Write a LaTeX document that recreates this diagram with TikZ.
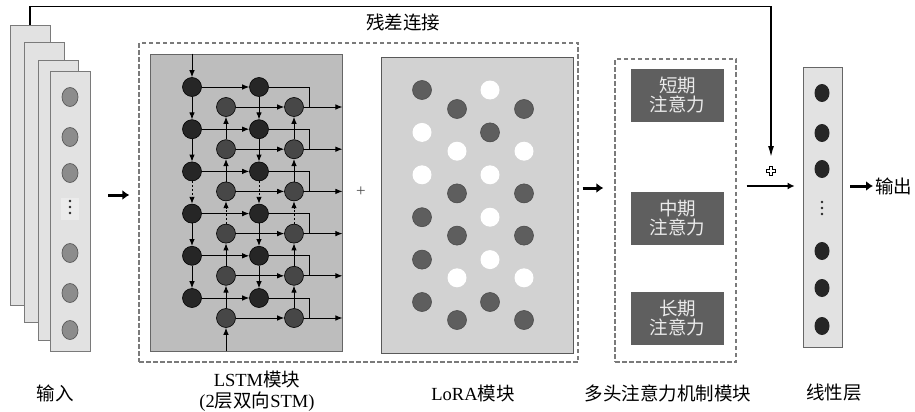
\documentclass[tikz,border=0pt]{standalone}
\usepackage{fontspec}
\setmainfont{Liberation Serif}
\newfontfamily\cjk{Noto Sans CJK SC}
\usepackage{tikz}
\definecolor{sheetGray}{HTML}{E2E2E2}
\definecolor{edgeGray}{HTML}{7A7A7A}
\definecolor{cellGray}{HTML}{8C8C8C}
\definecolor{lstmGray}{HTML}{BDBDBD}
\definecolor{loraGray}{HTML}{D2D2D2}
\definecolor{loraDark}{HTML}{5E5E5E}
\definecolor{attGray}{HTML}{5F5F5F}
\colorlet{fwdDark}{black!85}
\colorlet{bwdDark}{black!72}
\usetikzlibrary{arrows.meta}
\usetikzlibrary{shapes.geometric}
\newcommand{\zhtxt}[1]{{\cjk #1}}

\begin{document}
\begin{tikzpicture}[x=1pt, y=-1pt,
  sheet/.style={draw=edgeGray, fill=sheetGray, line width=0.8pt, minimum width=40pt, minimum height=280pt, inner sep=0pt},
  incell/.style={ellipse, draw=black!65, fill=cellGray, line width=0.7pt, minimum width=16pt, minimum height=19pt, inner sep=0pt},
  outcell/.style={ellipse, fill=fwdDark, minimum width=15pt, minimum height=18pt, inner sep=0pt},
  fwd/.style={circle, draw=black, fill=fwdDark, line width=0.6pt, minimum size=19pt, inner sep=0pt},
  bwd/.style={circle, draw=black, fill=bwdDark, line width=0.6pt, minimum size=19pt, inner sep=0pt},
  loraD/.style={circle, draw=black!70, fill=loraDark, line width=0.6pt, minimum size=19pt, inner sep=0pt},
  loraW/.style={circle, fill=white, minimum size=19pt, inner sep=0pt},
  flow/.style={-{Latex[length=7pt, width=5.5pt]}, line width=0.9pt},
  gap/.style={dash pattern=on 2pt off 2pt},
  fat/.style={-{Latex[length=7pt, width=10pt]}, line width=3pt},
  dashbox/.style={draw=edgeGray, dash pattern=on 4.5pt off 2.5pt, line width=1.3pt, inner sep=0pt},
  attbox/.style={fill=attGray, text=white!92!black, minimum width=93pt, minimum height=53pt, inner sep=0pt, align=center, font=\cjk\fontsize{18.5}{19}\selectfont},
  lbl/.style={inner sep=0pt, align=center, font=\fontsize{18.5}{21}\selectfont}]

  \useasboundingbox (0,0) rectangle (915,412);

  % input stack
  \node[sheet] (sheet1) at (30,165) {};
  \node[sheet] (sheet2) at (44,182.5) {};
  \node[sheet] (sheet3) at (58,200) {};
  \node[sheet] (sheet4) at (70,211) {};
  \foreach \n/\y in {1/97,2/137,3/173,4/253,5/293,6/330}
    \node[incell] (x\n) at (70,\y) {};
  \fill[sheetGray!70!white] (61,198) rectangle (79,220);
  \foreach \y in {201,207,213}
    \fill[black!85] (70,\y) circle [radius=1.4];

  % encoder (LSTM + LoRA)
  \node[dashbox, minimum width=439pt, minimum height=319pt] (enc) at (358.5,202.5) {};
  \node[draw=black!60, fill=lstmGray, line width=0.9pt, minimum width=192pt, minimum height=297pt, inner sep=0pt] (lstm) at (246,202.5) {};
  \node[draw=black!65, fill=loraGray, line width=0.9pt, minimum width=192pt, minimum height=296pt, inner sep=0pt] (lora) at (477,205) {};
  \node[text=black!70, inner sep=0pt, font=\fontsize{17}{17}\selectfont] (mix) at (361,192) {+};

  % bidirectional LSTM cells
  \foreach \i in {1,...,6} {
    \node[fwd] (f1\i) at (192,{87+42.2*(\i-1)}) {};
    \node[fwd] (f2\i) at (259,{87+42.2*(\i-1)}) {};
    \node[bwd] (b1\i) at (226,{107+42.2*(\i-1)}) {};
    \node[bwd] (b2\i) at (294,{107+42.2*(\i-1)}) {};
  }
  \foreach \i in {1,...,6} {
    \draw[flow] (f1\i) -- (f2\i);
    \draw[flow] (b1\i) -- (b2\i);
    \coordinate (h\i) at (lstm.east |- b2\i);
    \draw[flow] (b2\i) -- (h\i);
    \draw[line width=0.9pt] (f2\i.east) -| ([xshift=15pt]b2\i.center);
  }
  \foreach \i/\j/\ls in {1/2/solid,2/3/solid,3/4/gap,4/5/solid,5/6/solid} {
    \draw[flow, \ls] (f1\i) -- (f1\j);
    \draw[flow, \ls] (f2\i) -- (f2\j);
    \draw[flow, \ls] (b1\j) -- (b1\i);
    \draw[flow, \ls] (b2\j) -- (b2\i);
  }
  \draw[flow] (lstm.north -| f11) -- (f11);
  \draw[flow] (lstm.south -| b16) -- (b16);

  % LoRA cells
  \foreach \i/\a/\b/\c in {1/D/D/W,2/W/W/D,3/W/D/W,4/D/D/W,5/D/W/W,6/D/D/D} {
    \node[lora\a] (r1\i) at (422,{90+42.4*(\i-1)}) {};
    \node[lora\b] (r2\i) at (457,{109+42.2*(\i-1)}) {};
    \node[lora\c] (r3\i) at (490,{90+42.4*(\i-1)}) {};
    \node[lora\b] (r4\i) at (524,{109+42.2*(\i-1)}) {};
  }

  % multi-head attention
  \node[dashbox, minimum width=121pt, minimum height=303pt] (att) at (675.5,210.5) {};
  \node[attbox] (short) at (677.5,95.5) {短期\\注意力};
  \node[attbox] (mid) at (677.5,218) {中期\\注意力};
  \node[attbox] (long) at (677.5,318) {长期\\注意力};

  % linear layer
  \node[draw=black!60, fill=sheetGray, line width=0.8pt, minimum width=39pt, minimum height=280pt, inner sep=0pt] (linear) at (822.5,207) {};
  \foreach \n/\y in {1/93,2/133,3/169,4/251,5/288,6/326}
    \node[outcell] (y\n) at (822,\y) {};
  \foreach \y in {202,208,214}
    \fill[black!85] (822,\y) circle [radius=1.4];

  % arrows
  \draw[fat] ([xshift=18pt]sheet4.east |- 0,195) -- ([xshift=-9pt]enc.west |- 0,195);
  \draw[fat] ([xshift=4pt]enc.east |- 0,188) -- ([xshift=-11pt]att.west |- 0,188);
  \draw[-{Latex[length=7pt, width=7pt]}, line width=2pt] ([xshift=10pt]att.east |- 0,186) -- ([xshift=-8pt]linear.west |- 0,186);
  \coordinate (sum) at (771,171);
  \draw[fill=white, line width=0.7pt, shift={(sum)}] (-1.6,-4.6) -- (1.6,-4.6) -- (1.6,-1.6) -- (4.6,-1.6) -- (4.6,1.6) -- (1.6,1.6) -- (1.6,4.6) -- (-1.6,4.6) -- (-1.6,1.6) -- (-4.6,1.6) -- (-4.6,-1.6) -- (-1.6,-1.6) -- cycle;
  \draw[-{Latex[length=11pt, width=6pt]}, line width=1.4pt] (sheet1.north) -- ++(0,-18) -| ([yshift=14pt]sum);
  \node[lbl, anchor=west] (yout) at (875,186) {\zhtxt{输出}};
  \draw[fat] ([xshift=8pt]linear.east |- yout) -- ([xshift=-2pt]yout.west);

  % labels
  \node[lbl] (res) at (403,22) {\zhtxt{残差连接}};
  \node[lbl] (lin) at (55,393) {\zhtxt{输入}};
  \node[lbl] (llstm) at (257,391) {LSTM\zhtxt{模块}\\(2\zhtxt{层双向}STM)};
  \node[lbl] (llora) at (473,393) {LoRA\zhtxt{模块}};
  \node[lbl] (latt) at (668,393) {\zhtxt{多头注意力机制模块}};
  \node[lbl] (llin) at (834,393) {\zhtxt{线性层}};
\end{tikzpicture}
\end{document}
